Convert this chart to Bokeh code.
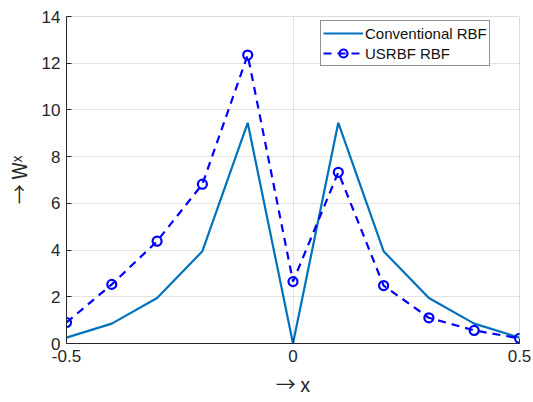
from bokeh.plotting import figure
from bokeh.models import FixedTicker, Range1d, Legend, LegendItem
from bokeh.embed import file_html
from bokeh.resources import INLINE

x_vals = [-0.5, -0.4, -0.3, -0.2, -0.1, 0.0, 0.1, 0.2, 0.3, 0.4, 0.5]
conventional = [0.25, 0.85, 1.95, 3.95, 9.45, 0.0, 9.45, 3.95, 1.95, 0.85, 0.25]
usrbf = [0.9, 2.53, 4.38, 6.82, 12.35, 2.65, 7.33, 2.48, 1.1, 0.56, 0.22]
x_ticks = [-0.5, 0, 0.5]
y_ticks = [0, 2, 4, 6, 8, 10, 12, 14]
x_label = "\u2192 x"
y_label = "\u2192 W\u02e3"
series_names = ["Conventional RBF", "USRBF RBF"]

FONT = "Liberation Sans"
LABEL_FONT = "'Noto Sans CJK JP', 'Liberation Sans'"

p = figure(width=533, height=402, output_backend="svg", toolbar_location=None,
           x_range=Range1d(-0.5, 0.5), y_range=Range1d(0, 14),
           min_border_left=66, min_border_right=14, min_border_top=16, min_border_bottom=59)
p.background_fill_color = "white"
p.border_fill_color = "white"
p.outline_line_color = "#dcdcdc"
p.outline_line_width = 1

r1 = p.line(x_vals, conventional, line_color="#0072BD", line_width=2.2)
r2 = p.line(x_vals, usrbf, line_color="#0000FF", line_width=2.2, line_dash="8 6")
r3 = p.scatter(x_vals, usrbf, marker="circle", size=9, fill_color=None,
               line_color="#0000FF", line_width=2.2)

p.xaxis.ticker = FixedTicker(ticks=x_ticks)
p.yaxis.ticker = FixedTicker(ticks=y_ticks)
p.xaxis.major_label_overrides = {-0.5: "-0.5", 0: "0", 0.5: "0.5"}
for ax in (p.xaxis[0], p.yaxis[0]):
    ax.axis_line_color = "#262626"
    ax.axis_line_width = 1
    ax.major_tick_in = 5
    ax.major_tick_out = 0
    ax.major_tick_line_color = "#262626"
    ax.minor_tick_line_color = None
    ax.major_label_text_font = FONT
    ax.major_label_text_font_size = "17px"
    ax.major_label_text_color = "#262626"
    ax.axis_label_text_font = LABEL_FONT
    ax.axis_label_text_font_size = "20px"
    ax.axis_label_text_font_style = "normal"
    ax.axis_label_text_color = "#262626"

p.xaxis.axis_label = x_label
p.yaxis.axis_label = y_label
p.xaxis.major_label_standoff = 6
p.yaxis.major_label_standoff = 6
p.xaxis.axis_label_standoff = 4
p.yaxis.axis_label_standoff = 6

p.xgrid.ticker = FixedTicker(ticks=x_ticks)
p.ygrid.ticker = FixedTicker(ticks=y_ticks)
p.grid.grid_line_color = "#e3e3e3"
p.grid.grid_line_width = 1

legend = Legend(items=[LegendItem(label=series_names[0], renderers=[r1]),
                       LegendItem(label=series_names[1], renderers=[r2, r3])],
                location=(254, 277))
legend.border_line_color = "#262626"
legend.border_line_width = 1
legend.label_text_font = FONT
legend.label_text_font_size = "15px"
legend.label_text_color = "#111111"
legend.padding = 2
legend.spacing = 0
legend.margin = 0
legend.glyph_width = 40
legend.glyph_height = 20
legend.label_height = 20
legend.label_standoff = 2
p.add_layout(legend)

open("out.html", "w").write(file_html(p, INLINE))
